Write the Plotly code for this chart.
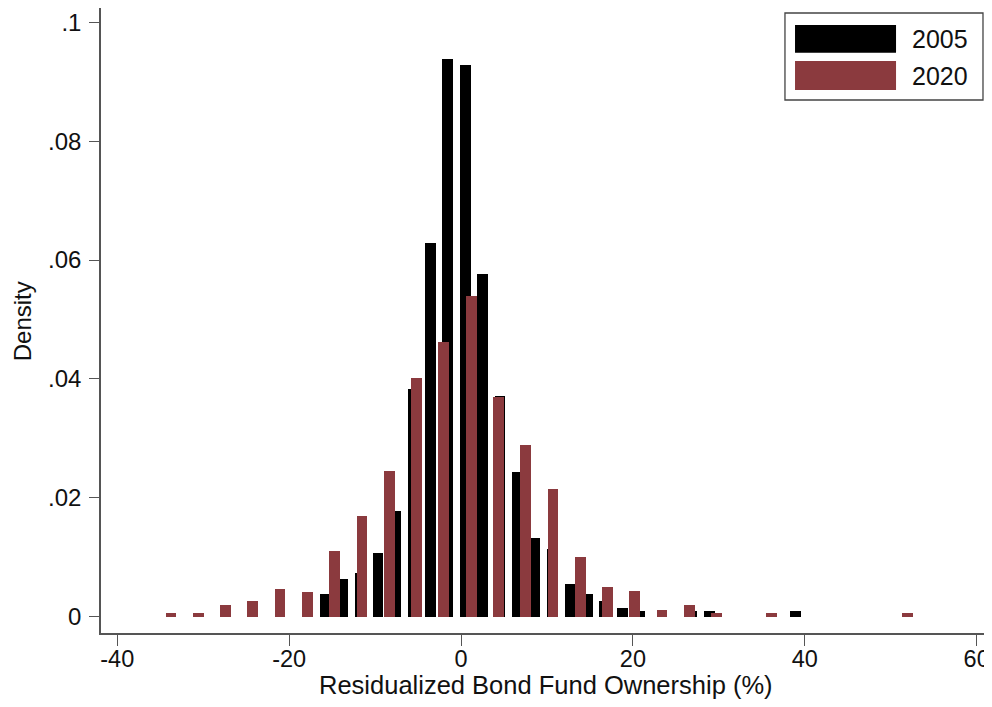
import plotly.graph_objects as go

# ---- data ----
centers_2005 = [-15.75, -13.72, -11.69, -9.66, -7.63, -5.60, -3.57, -1.54, 0.49, 2.52,
                4.55, 6.58, 8.61, 10.64, 12.67, 14.70, 16.73, 18.76, 20.79, 26.88,
                28.91, 38.96]
density_2005 = [0.0039, 0.0063, 0.0073, 0.0107, 0.0178, 0.0383, 0.0628, 0.0938, 0.0928, 0.0577,
                0.0372, 0.0243, 0.0132, 0.0114, 0.0055, 0.0039, 0.0026, 0.0014, 0.0009, 0.0009,
                0.0009, 0.0009]

centers_2020 = [-33.75, -30.58, -27.40, -24.23, -21.05, -17.88, -14.70, -11.53, -8.35, -5.18,
                -2.00, 1.18, 4.35, 7.53, 10.70, 13.88, 17.05, 20.23, 23.40, 26.58,
                29.75, 36.10, 51.98]
density_2020 = [0.0006, 0.0006, 0.0019, 0.0026, 0.0046, 0.0042, 0.0111, 0.0170, 0.0245, 0.0401,
                0.0462, 0.0540, 0.0369, 0.0289, 0.0215, 0.0100, 0.0050, 0.0043, 0.0012, 0.0019,
                0.0006, 0.0006, 0.0006]

series_names = ["2005", "2020"]
series_colors = ["#000000", "#8B3A3E"]

x_ticks = [-40, -20, 0, 20, 40, 60]
x_ticklabels = ["-40", "-20", "0", "20", "40", "60"]
y_ticks = [0, 0.02, 0.04, 0.06, 0.08, 0.1]
y_ticklabels = ["0", ".02", ".04", ".06", ".08", ".1"]

x_title = "Residualized Bond Fund Ownership (%)"
y_title = "Density"

BAR_W = 1.25
FONT = "Liberation Sans, Arial, Helvetica, sans-serif"
TXT = "#111111"

fig = go.Figure()
for cx, dy, name, col in [(centers_2005, density_2005, series_names[0], series_colors[0]),
                          (centers_2020, density_2020, series_names[1], series_colors[1])]:
    fig.add_trace(go.Bar(x=cx, y=dy, name=name, width=BAR_W,
                         marker=dict(color=col, line=dict(width=0)),
                         showlegend=False))

# custom legend box (large swatches like the original)
fig.add_shape(type="rect", xref="paper", yref="paper",
              x0=0.7685, x1=0.991, y0=0.8528, y1=0.992,
              line=dict(color="#444444", width=1.3), fillcolor="white", layer="above")
swatch_y = [(0.9285, 0.9728), (0.8688, 0.9152)]
label_y = [0.9504, 0.8912]
for name, col, (y0, y1), ly in zip(series_names, series_colors, swatch_y, label_y):
    fig.add_shape(type="rect", xref="paper", yref="paper",
                  x0=0.7798, x1=0.8933, y0=y0, y1=y1,
                  line=dict(width=0), fillcolor=col, layer="above")
    fig.add_annotation(xref="paper", yref="paper", x=0.909, y=ly,
                       text=name, showarrow=False, xanchor="left", yanchor="middle",
                       font=dict(family=FONT, size=25, color=TXT))

# axis titles
fig.add_annotation(xref="paper", yref="paper", x=0.5, y=-0.0830, text=x_title,
                   showarrow=False, xanchor="center", yanchor="middle",
                   font=dict(family=FONT, size=25.5, color=TXT))
fig.add_annotation(xref="paper", yref="paper", x=-0.0885, y=0.4992, text=y_title,
                   showarrow=False, xanchor="center", yanchor="middle", textangle=-90,
                   font=dict(family=FONT, size=24, color=TXT))

axis_col = "#555555"
fig.update_layout(
    width=984, height=691,
    margin=dict(l=93, r=1, t=0, b=66),
    paper_bgcolor="white", plot_bgcolor="white",
    barmode="overlay", bargap=0,
    font=dict(family=FONT, size=24, color=TXT),
    xaxis=dict(range=[-41.89, 61.67], tickvals=x_ticks, ticktext=x_ticklabels,
               ticks="outside", ticklen=11, tickwidth=1.3, tickcolor=axis_col,
               showline=True, linecolor=axis_col, linewidth=1.5, showgrid=False,
               zeroline=False, automargin=False, ticklabelstandoff=-7,
               tickfont=dict(size=23.5)),
    yaxis=dict(range=[-0.00274, 0.1024], tickvals=y_ticks, ticktext=y_ticklabels,
               ticks="outside", ticklen=10, tickwidth=1.3, tickcolor=axis_col,
               showline=True, linecolor=axis_col, linewidth=1.5, showgrid=False,
               zeroline=False, automargin=False, ticklabelstandoff=3,
               tickfont=dict(size=24)),
)

fig.write_html("out.html")
